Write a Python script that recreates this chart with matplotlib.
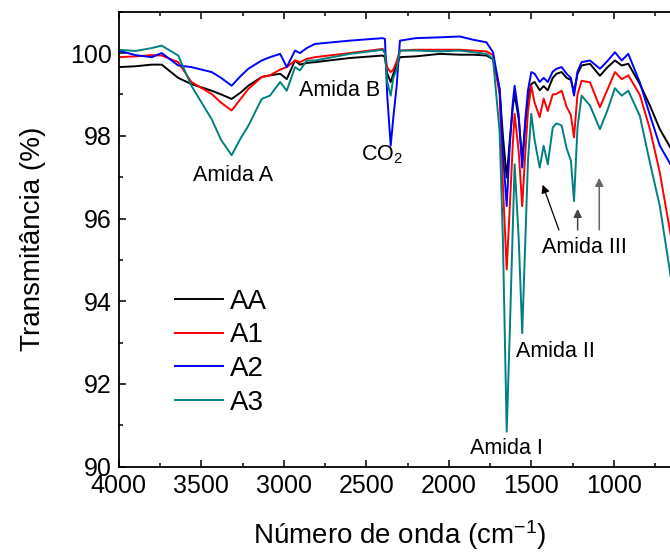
import matplotlib
matplotlib.use("Agg")
import matplotlib.pyplot as plt
from matplotlib.ticker import MultipleLocator

plt.rcParams['font.family'] = ['Liberation Sans', 'DejaVu Sans']
plt.rcParams['mathtext.fontset'] = 'custom'
plt.rcParams['mathtext.rm'] = 'Liberation Sans'
plt.rcParams['mathtext.it'] = 'Liberation Sans:italic'
plt.rcParams['mathtext.bf'] = 'Liberation Sans:bold'

# wavenumber grid (cm-1)
wavenumber = [4000, 3900, 3800, 3740, 3640, 3560, 3437, 3380, 3316, 3260,
              3215, 3134, 3084, 3022, 2982, 2932, 2902, 2861, 2811, 2600,
              2400, 2387, 2373, 2352, 2336, 2316, 2296, 2200, 2054, 1933,
              1850, 1772, 1732, 1692, 1672, 1649, 1630, 1612, 1601, 1576,
              1555, 1536, 1520, 1500, 1480, 1449, 1425, 1400, 1370, 1347,
              1316, 1286, 1260, 1241, 1220, 1195, 1144, 1084, 1040, 993,
              952, 912, 842, 781, 721, 655]

t_AA = [99.66, 99.68, 99.72, 99.72, 99.40, 99.25, 99.09, 99.00, 98.89, 99.05,
        99.21, 99.42, 99.46, 99.50, 99.37, 99.82, 99.72, 99.76, 99.78, 99.88,
        99.94, 99.90, 99.50, 99.30, 99.50, 99.70, 99.90, 99.92, 99.98, 99.96,
        99.96, 99.94, 99.85, 99.13, 98.00, 96.99, 97.90, 98.70, 99.01, 98.40,
        97.40, 98.30, 98.90, 99.25, 99.30, 99.10, 99.20, 99.10, 99.40, 99.50,
        99.54, 99.40, 99.35, 99.05, 99.50, 99.70, 99.74, 99.45, 99.65, 99.82,
        99.70, 99.74, 99.25, 98.73, 98.16, 97.70]

t_A1 = [99.90, 99.92, 99.95, 99.94, 99.78, 99.30, 99.01, 98.80, 98.61, 98.90,
        99.13, 99.42, 99.46, 99.60, 99.66, 99.82, 99.78, 99.86, 99.90, 100.00,
        100.10, 100.00, 99.65, 99.54, 99.60, 99.80, 100.06, 100.08, 100.08, 100.08,
        100.06, 100.04, 99.95, 99.00, 96.80, 94.77, 96.30, 97.80, 98.53, 97.60,
        96.30, 97.60, 98.60, 99.21, 98.80, 98.45, 98.90, 98.60, 99.00, 99.01,
        99.09, 98.70, 98.50, 97.96, 99.00, 99.33, 99.29, 98.69, 99.10, 99.54,
        99.37, 99.46, 98.99, 98.16, 97.11, 95.60]

t_A2 = [100.06, 99.95, 99.90, 100.00, 99.70, 99.66, 99.54, 99.40, 99.21, 99.45,
        99.62, 99.82, 99.90, 99.98, 99.66, 100.06, 100.00, 100.12, 100.22, 100.30,
        100.36, 100.34, 98.97, 97.76, 98.45, 99.20, 100.30, 100.36, 100.38, 100.40,
        100.32, 100.26, 100.02, 99.13, 97.60, 96.30, 97.80, 98.80, 99.21, 98.50,
        97.23, 98.40, 99.10, 99.54, 99.50, 99.30, 99.40, 99.30, 99.55, 99.62,
        99.66, 99.50, 99.40, 98.97, 99.55, 99.78, 99.82, 99.62, 99.80, 100.02,
        99.82, 99.98, 99.29, 98.50, 97.76, 97.30]

t_A3 = [100.08, 100.05, 100.12, 100.18, 99.94, 99.21, 98.40, 97.90, 97.53, 97.95,
        98.24, 98.89, 98.97, 99.30, 99.09, 99.66, 99.58, 99.82, 99.82, 99.98,
        100.08, 100.00, 99.30, 98.97, 99.40, 99.60, 100.06, 100.06, 100.04, 100.06,
        100.02, 99.98, 99.86, 98.10, 95.50, 90.85, 93.30, 95.80, 97.31, 95.50,
        93.23, 95.50, 97.40, 98.53, 97.90, 97.23, 97.76, 97.31, 98.20, 98.30,
        98.25, 97.70, 97.40, 96.42, 98.20, 98.97, 98.73, 98.16, 98.60, 99.15,
        98.97, 99.09, 98.48, 97.35, 96.30, 94.60]

series = [('AA', t_AA, 'black'), ('A1', t_A1, 'red'),
          ('A2', t_A2, 'blue'), ('A3', t_A3, '#008080')]

fig = plt.figure(figsize=(6.7, 5.56), dpi=100)
ax = fig.add_axes([0.1773, 0.1606, 0.8373, 0.8184])

for name, vals, col in series:
    ax.plot(wavenumber, vals, color=col, lw=1.4, label=name)

ax.set_xlim(4000, 600)
ax.set_ylim(90, 101)
ax.xaxis.set_major_locator(MultipleLocator(500))
ax.xaxis.set_minor_locator(MultipleLocator(250))
ax.yaxis.set_major_locator(MultipleLocator(2))
ax.yaxis.set_minor_locator(MultipleLocator(1))
ax.tick_params(which='both', direction='in', top=True, labelsize=18, width=1.1, pad=5)
ax.tick_params(which='major', length=5)
ax.tick_params(which='minor', length=3)
for sp in ax.spines.values():
    sp.set_linewidth(1.3)

ax.set_ylabel('Transmitância (%)', fontsize=20, labelpad=17)
ax.set_xlabel('Número de onda (cm$^{-1}$)', fontsize=20, labelpad=15)

# band labels
fs = 15.5
ax.text(3308, 97.05, 'Amida A', fontsize=fs, ha='center', va='center')
ax.text(2659, 99.1, 'Amida B', fontsize=fs, ha='center', va='center')
ax.text(2404, 97.55, 'CO$_2$', fontsize=fs, ha='center', va='center')
ax.text(1649, 90.44, 'Amida I', fontsize=fs, ha='center', va='center')
ax.text(1356, 92.79, 'Amida II', fontsize=fs, ha='center', va='center')
ax.text(1176, 95.29, 'Amida III', fontsize=fs, ha='center', va='center')

# arrows pointing at amide III bands
ax.annotate('', xy=(1437, 96.88), xytext=(1327, 95.66),
            arrowprops=dict(arrowstyle='-|>', color='black', lw=0.9, mutation_scale=12))
ax.annotate('', xy=(1219, 96.30), xytext=(1219, 95.66),
            arrowprops=dict(arrowstyle='-|>', color='#444444', lw=1.1, mutation_scale=12))
ax.annotate('', xy=(1088, 97.05), xytext=(1088, 95.66),
            arrowprops=dict(arrowstyle='-|>', color='#666666', lw=1.1, mutation_scale=12))

ax.legend(loc='center left', bbox_to_anchor=(0.100, 0.2517), frameon=False,
          fontsize=20, handlelength=1.73, handletextpad=0.25, labelspacing=0.28,
          borderpad=0, borderaxespad=0)

fig.savefig('out.png', dpi=100)
